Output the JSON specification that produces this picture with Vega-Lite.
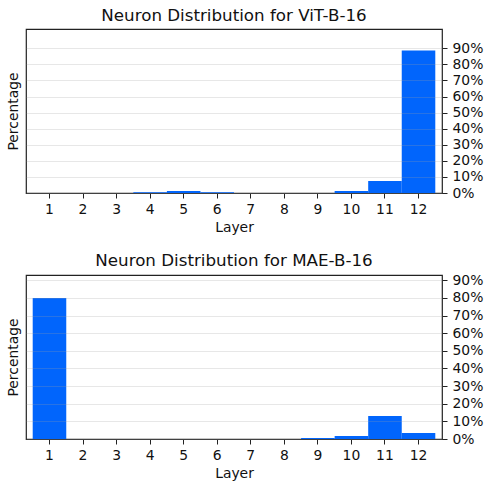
{
  "$schema": "https://vega.github.io/schema/vega-lite/v6.json",
  "padding": {"left": 5, "top": 7, "right": 2, "bottom": 0},
  "spacing": 15,
  "config": {
    "font": "DejaVu Sans",
    "view": {"stroke": "#222222", "strokeWidth": 1.2},
    "axis": {
      "labelFont": "DejaVu Sans",
      "titleFont": "DejaVu Sans",
      "labelFontSize": 13.9,
      "titleFontSize": 13.9,
      "titleFontWeight": "normal",
      "labelColor": "#111111",
      "titleColor": "#111111",
      "tickColor": "#222222",
      "tickSize": 5,
      "tickWidth": 1,
      "labelPadding": 4,
      "domain": false
    },
    "title": {"font": "DejaVu Sans", "fontSize": 16.7, "fontWeight": "normal", "color": "#111111", "offset": 4}
  },
  "datasets": {
    "vit": [
      {"layer": 1, "pct": 0.0},
      {"layer": 2, "pct": 0.0},
      {"layer": 3, "pct": 0.0},
      {"layer": 4, "pct": 0.5},
      {"layer": 5, "pct": 1.3},
      {"layer": 6, "pct": 0.5},
      {"layer": 7, "pct": 0.0},
      {"layer": 8, "pct": 0.0},
      {"layer": 9, "pct": 0.0},
      {"layer": 10, "pct": 1.2},
      {"layer": 11, "pct": 7.4},
      {"layer": 12, "pct": 88.6}
    ],
    "mae": [
      {"layer": 1, "pct": 80.0},
      {"layer": 2, "pct": 0.0},
      {"layer": 3, "pct": 0.0},
      {"layer": 4, "pct": 0.0},
      {"layer": 5, "pct": 0.0},
      {"layer": 6, "pct": 0.0},
      {"layer": 7, "pct": 0.0},
      {"layer": 8, "pct": 0.0},
      {"layer": 9, "pct": 0.5},
      {"layer": 10, "pct": 1.7},
      {"layer": 11, "pct": 13.1},
      {"layer": 12, "pct": 3.4}
    ]
  },
  "vconcat": [
    {
      "title": "Neuron Distribution for ViT-B-16",
      "width": 416,
      "height": 164,
      "data": {"name": "vit"},
      "layer": [
        {
          "mark": {"type": "bar", "color": "#0165fc"},
          "encoding": {
            "x": {"field": "layer", "type": "ordinal", "scale": {"paddingInner": 0, "paddingOuter": 0.2}, "axis": {"labelAngle": 0, "title": "Layer", "titlePadding": 5}},
            "y": {"field": "pct", "type": "quantitative", "scale": {"domain": [0, 102], "nice": false},
              "axis": {"orient": "right", "values": [0, 10, 20, 30, 40, 50, 60, 70, 80, 90], "labelExpr": "datum.value + '%'", "title": null, "grid": true, "gridColor": "#a0a0a0", "gridOpacity": 0.25, "zindex": 1, "labelPadding": 5}}
          }
        },
        {
          "mark": {"type": "bar", "opacity": 0},
          "encoding": {
            "x": {"field": "layer", "type": "ordinal"},
            "y": {"field": "pct", "type": "quantitative", "scale": {"domain": [0, 102], "nice": false},
              "axis": {"orient": "left", "labels": false, "ticks": false, "grid": false, "title": "Percentage", "titlePadding": 6}}
          }
        }
      ],
      "resolve": {"scale": {"y": "independent"}}
    },
    {
      "title": "Neuron Distribution for MAE-B-16",
      "width": 416,
      "height": 164,
      "data": {"name": "mae"},
      "layer": [
        {
          "mark": {"type": "bar", "color": "#0165fc"},
          "encoding": {
            "x": {"field": "layer", "type": "ordinal", "scale": {"paddingInner": 0, "paddingOuter": 0.2}, "axis": {"labelAngle": 0, "title": "Layer", "titlePadding": 5}},
            "y": {"field": "pct", "type": "quantitative", "scale": {"domain": [0, 93], "nice": false},
              "axis": {"orient": "right", "values": [0, 10, 20, 30, 40, 50, 60, 70, 80, 90], "labelExpr": "datum.value + '%'", "title": null, "grid": true, "gridColor": "#a0a0a0", "gridOpacity": 0.25, "zindex": 1, "labelPadding": 5}}
          }
        },
        {
          "mark": {"type": "bar", "opacity": 0},
          "encoding": {
            "x": {"field": "layer", "type": "ordinal"},
            "y": {"field": "pct", "type": "quantitative", "scale": {"domain": [0, 93], "nice": false},
              "axis": {"orient": "left", "labels": false, "ticks": false, "grid": false, "title": "Percentage", "titlePadding": 6}}
          }
        }
      ],
      "resolve": {"scale": {"y": "independent"}}
    }
  ]
}
